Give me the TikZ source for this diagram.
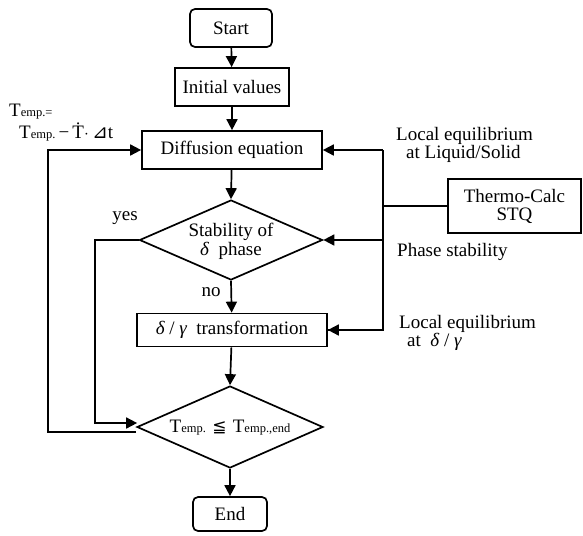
\documentclass[tikz,border=0pt]{standalone}
\usepackage{fontspec}
\setmainfont{Liberation Serif}
\newfontfamily\dejavu{DejaVu Sans}
\usetikzlibrary{arrows.meta,calc,shapes.geometric}
\newcommand\Tsm[1]{T{\fontsize{12.5}{13}\selectfont #1}}
\begin{document}
\begin{tikzpicture}[x=1pt,y=-1pt,
  every node/.style={font=\fontsize{19}{22}\selectfont},
  box/.style={draw,line width=1.7pt,inner sep=0pt},
  rbox/.style={box,rounded corners=5pt},
  dia/.style={draw,line width=1.7pt,diamond,inner sep=0pt},
  line/.style={line width=1.7pt},
  arr/.style={line,-{Triangle[length=11pt,width=11pt]}},
  lab/.style={inner sep=0pt,align=left}]
\useasboundingbox (0,0) rectangle (583,535);
% nodes
\node[rbox,minimum width=82pt,minimum height=38pt] (start) at (231,28) {Start};
\node[box,minimum width=114pt,minimum height=38pt] (init) at (232,87) {Initial values};
\node[box,minimum width=180pt,minimum height=38pt] (diff) at (232,150) {Diffusion equation};
\node[dia,minimum width=183pt,minimum height=80pt] (stab) at (231,240) {};
\node[lab,align=center] (stabt) at (231,241) {Stability of\\[-3pt]{\itshape δ}\enspace phase};
\node[box,minimum width=190pt,minimum height=33pt] (trans) at (232,330) {{\itshape δ} / {\itshape γ}\enspace transformation};
\node[dia,minimum width=186pt,minimum height=82pt] (tcond) at (230,427) {};
\node[lab] (tcondt) at (230,428) {\Tsm{emp.}\,\,{\dejavu\fontsize{17}{20}\selectfont ≦}\,\,\Tsm{emp.,end}};
\node[rbox,minimum width=74pt,minimum height=34pt] (end) at (230,514) {End};
\node[box,minimum width=133pt,minimum height=54pt,align=center] (tc) at (514.5,206) {Thermo-Calc\\[-4pt]STQ};
% labels
\node[lab,anchor=west] (le1) at (396,145) {Local equilibrium\\[-4pt]\hspace*{10pt}at Liquid/Solid};
\node[lab,anchor=west] (ps) at (397,252) {Phase stability};
\node[lab,anchor=west] (le2) at (399,333) {Local equilibrium\\[-4pt]\hspace*{8pt}at\enspace{\itshape δ} / {\itshape γ}};
\node[lab,anchor=west] (tl) at (9,123) {\Tsm{emp.=}\\[0pt]\hspace*{10pt}\Tsm{emp.}\,−\,\.{T}$\cdot$\,{\dejavu\fontsize{19}{20}\selectfont ⊿}t};
\node[lab] (yes) at (125,218) {yes};
\node[lab] (no) at (211,292) {no};
% coordinates
\coordinate (rv) at (383,150);
\coordinate (yv) at (95,240);
\coordinate (lv) at (48,432);
% connectors
\draw[arr] (start) -- (init);
\draw[arr] (init) -- (diff);
\draw[arr] (diff) -- (stab.north);
\draw[arr] (stab.south) -- (trans);
\draw[arr] (trans) -- (tcond.north);
\draw[arr] (tcond.south) -- (end);
\draw[arr] (stab.west) -- (yv) |- ($(tcond.west)+(1,-4)$);
\draw[arr] ($(tcond.west)+(0,5)$) -- (lv) |- (diff.west);
\draw[arr] (rv) -- (diff.east);
\draw[line] (rv) |- (trans.east);
\draw[arr] (rv |- stab.east) -- (stab.east);
\draw[arr] (rv |- trans.east) -- (trans.east);
\draw[line] (rv |- tc.west) -- (tc.west);
\end{tikzpicture}
\end{document}
